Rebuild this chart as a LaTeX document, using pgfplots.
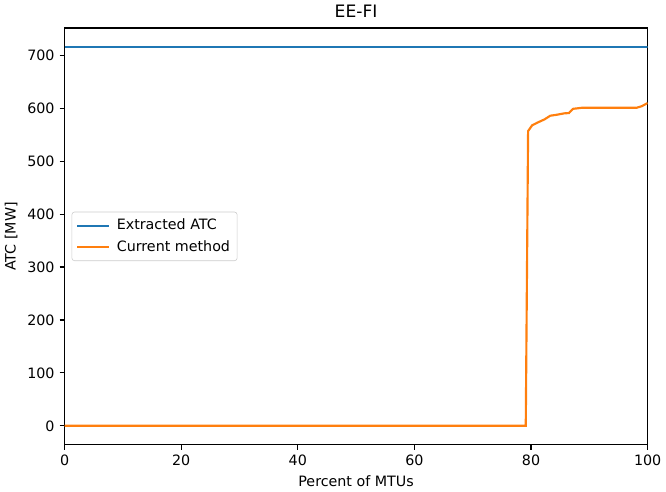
\documentclass[border=0pt]{standalone}
\usepackage{fontspec}
\setmainfont{DejaVu Sans}
\usepackage{pgfplots}
\pgfplotsset{compat=1.18}
\definecolor{tabblue}{HTML}{1F77B4}
\definecolor{taborange}{HTML}{FF7F0E}
\begin{document}
\begin{tikzpicture}
\begin{axis}[
  scale only axis,
  width=408.5pt, height=292pt,
  xmin=0, xmax=100, ymin=-35.8, ymax=751.8,
  xtick={0,20,40,60,80,100},
  ytick={0,100,200,300,400,500,600,700},
  tick align=outside,
  tick pos=left,
  major tick length=3.5pt,
  every tick/.style={black, line width=0.8pt},
  axis line style={line width=0.8pt},
  /pgf/number format/assume math mode=true,
  ticklabel style={font=\fontsize{10}{12}\selectfont},
  label style={font=\fontsize{10}{12}\selectfont},
  xlabel={Percent of MTUs},
  ylabel={ATC [MW]},
  title={EE-FI},
  title style={font=\fontsize{12}{14}\selectfont, yshift=-2pt},
  legend style={at={(0.012,0.5)}, anchor=west, font=\fontsize{10}{12}\selectfont,
    draw=black!20, rounded corners=2pt, inner sep=3pt, row sep=2pt},
  legend cell align=left,
  legend image code/.code={\draw[#1] (0pt,0pt) -- (22pt,0pt);},
  every even column/.append style={column sep=2pt},
]
\addplot[tabblue, line width=1.5pt] coordinates {(0,716) (100,716)};
\addlegendentry{\hspace{3pt}Extracted ATC}
\addplot[taborange, line width=1.5pt] coordinates {
(0,0) (79.1,0) (79.5,557) (80.2,568) (81.1,573) (82.3,579) (83.3,586) (84.5,588)
(85.7,590.5) (86.5,591) (87.2,599) (88.7,601) (98.1,601) (99,604) (100,610)};
\addlegendentry{\hspace{3pt}Current method}
\end{axis}
\end{tikzpicture}
\end{document}
